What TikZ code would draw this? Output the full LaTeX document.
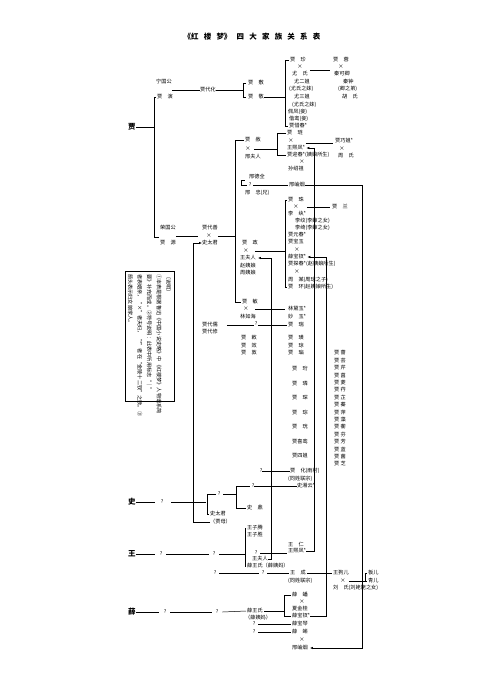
\documentclass[tikz,border=0pt]{standalone}
\usepackage{fontspec}
\setmainfont{Noto Sans CJK SC}
\usepackage{tikz}
\usetikzlibrary{arrows.meta}

\newcommand{\tsp}{\hspace{.7em}}
\tikzset{
  nm/.style={inner sep=0pt, anchor=west, font=\fontsize{5.2}{6}\selectfont, text=black},
  mk/.style={inner sep=0pt, font=\fontsize{5.2}{6}\selectfont, text=black},
  fam/.style={inner sep=0pt, anchor=west, font=\bfseries\fontsize{7.5}{8}\selectfont},
  ln/.style={line width=0.5pt},
  famln/.style={line width=0.9pt},
  arr/.style={line width=0.5pt, -{Latex[length=3pt,width=2.4pt]}},
}

\begin{document}
\begin{tikzpicture}[x=1bp, y=-1bp]
\fill[white] (0,0) rectangle (501,690);
\useasboundingbox (0,0) rectangle (501,690);

\node[font=\bfseries\fontsize{7.5}{8}\selectfont] (title) at (252,37) {《红\tsp 楼\tsp 梦》\tsp 四\tsp 大\tsp 家\tsp 族\tsp 关\tsp 系\tsp 表};

% jia
\node[fam] (jia) at (128,127) {贾};
\node[nm] (ngg) at (156,82) {宁国公};
\node[nm] (jy) at (157,97) {贾　演};
\node[nm] (jdh) at (200,90) {贾代化};
\node[nm] (jf) at (248,83) {贾　敷};
\node[nm] (jj) at (248,97) {贾　敬};
\node[nm] (rgg) at (160,228) {荣国公};
\node[nm] (jyu) at (160,243) {贾　源};
\node[nm] (jds) at (202,228) {贾代善};
\node[mk] (xds) at (209,236) {×};
\node[nm] (stj) at (202,243) {史太君};

\draw[famln] (jia.east) -- ([xshift=-3]jy.west |- jia.east);
\draw[ln] ([xshift=-1]jy.west) -- ++(-2,0) |- ([xshift=-1,yshift=6]jyu.west);
\draw[ln] (ngg.east |- jdh.west) -- (jdh.west);
\draw[ln] (jdh.east) -- ([xshift=-5]jf.west |- jdh.east);
\draw[ln] ([xshift=-2]jf.west) -- ++(-3,0) |- ([xshift=-2]jj.west);
\draw[ln] (rgg.east |- xds.center) -- ([xshift=-4]jds.west |- xds.center);

% ning branch
\node[nm] (jzh) at (290,60) {贾　珍};
\node[mk] (xzh) at (300,67) {×};
\node[nm] (ys) at (292,74) {尤　氏};
\node[nm] (yej) at (294,82) {尤二姐};
\node[nm] (ysm1) at (289,89) {(尤氏之妹)};
\node[nm] (ysj) at (294,97) {尤三姐};
\node[nm] (ysm2) at (292,105) {(尤氏之妹)};
\node[nm] (pf) at (288,112) {佩凤(妾)};
\node[nm] (xl) at (289,119) {偕鸾(妾)};
\node[nm] (jxc) at (289,126) {贾惜春*};
\node[nm] (jr) at (333,60) {贾　蓉};
\node[mk] (xr) at (341,67) {×};
\node[nm] (qkq) at (334,74) {秦可卿};
\node[nm] (qz) at (343,82) {秦钟};
\node[nm] (qzd) at (338,89) {(卿之弟)};
\node[nm] (hs) at (342,97) {胡　氏};

\draw[ln] (jj.east) -- ([xshift=-5]jzh.west |- jj.east);
\draw[ln] ([xshift=-1]jzh.west) -- ++(-4,0) |- ([xshift=-1]jxc.west);
\draw[ln] ([xshift=7,yshift=-3]xzh.east) -- ([xshift=-3,yshift=-3]jr.west |- xzh.east);

% she branch
\node[nm] (jsh) at (245,140) {贾　赦};
\node[mk] (xsh) at (248,149) {×};
\node[nm] (xfr) at (245,157) {邢夫人};
\node[nm] (jl) at (287,133) {贾　琏};
\node[mk] (xjl) at (291,141) {×};
\node[nm] (wxf) at (287,148) {王熙凤*};
\node[nm] (jyc) at (287,155) {贾迎春*(姨娘所生)};
\node[mk] (xyc) at (302,162) {×};
\node[nm] (ssz) at (288,169) {孙绍祖};
\node[nm] (jqj) at (335,141) {贾巧姐*};
\node[mk] (xqj) at (342,149) {×};
\node[nm] (zs) at (338,156) {周　氏};
\node[nm] (xdq) at (249,177) {邢德全};
\node[mk] (qxi) at (250,185) {?};
\node[nm] (xzhong) at (245,193) {邢　忠(兄)};
\node[nm] (xxy) at (289,185) {邢岫烟};

\draw[ln] ([xshift=6]xds.east) -- ([xshift=-10]jsh.west |- xds.center);
\draw[ln] ([xshift=3]xsh.east) -- ([xshift=-10]jl.west |- xsh.east);
\draw[ln] ([xshift=-1]jl.west) -- ++(-9,0) |- ([xshift=-1]jyc.west);
\draw[ln] ([xshift=12,yshift=-2]xjl.east) -- ([xshift=-2,yshift=-2]jqj.west |- xjl.east);
\draw[ln] ([xshift=-2]qxi.west) -- ++(-5,0) -- ++(0,-5) -- ++(3,0);
\draw[ln] ([xshift=2]qxi.east) -- ([xshift=-1]xxy.west |- qxi.east);

% zheng branch
\node[nm] (jzg) at (242,243) {贾　政};
\node[mk] (xzg) at (246,251) {×};
\node[nm] (wfr) at (240,258) {王夫人};
\node[nm] (zyn) at (240,266) {赵姨娘};
\node[nm] (zhyn) at (240,273) {周姨娘};
\node[nm] (jzhu) at (288,200) {贾　珠};
\node[mk] (xzhu) at (296,207) {×};
\node[nm] (lw) at (288,214) {李　纨*};
\node[nm] (lwen) at (295,221) {李纹(李婶之女)};
\node[nm] (lq) at (295,228) {李绮(李婶之女)};
\node[nm] (jyuc) at (288,235) {贾元春*};
\node[nm] (jby) at (288,242) {贾宝玉};
\node[mk] (xby) at (297,250) {×};
\node[nm] (bc) at (288,257) {薛宝钗*};
\node[nm] (jtc) at (288,264) {贾探春*(赵姨娘所生)};
\node[mk] (xtc) at (297,272) {×};
\node[nm] (zm) at (288,280) {周　某(周琼之子)};
\node[nm] (jhuan) at (288,287) {贾　环(赵姨娘所生)};
\node[nm] (jlan) at (332,207) {贾　兰};

\draw[ln] ([xshift=6]xzg.east) -- ([xshift=-3]jzhu.west |- xzg.east);
\draw[ln] ([xshift=-1]jzhu.west) -- ++(-2,0) |- ([xshift=-1]jhuan.west);
\draw[ln] ([xshift=8]xzhu.east) -- ([xshift=-2]jlan.west |- xzhu.east);

% min branch and cousins
\node[nm] (jm) at (242,302) {贾　敏};
\node[mk] (xm) at (246,309) {×};
\node[nm] (lrh) at (240,317) {林如海};
\node[nm] (ldy) at (288,309) {林黛玉*};
\node[nm] (my) at (288,317) {妙　玉*};
\node[nm] (jdr) at (202,325) {贾代儒};
\node[nm] (jdx) at (202,332) {贾代修};
\node[mk] (qr) at (256,324) {?};
\node[nm] (jrui) at (288,325) {贾　瑞};
\node[nm] (jch) at (241,338) {贾　敕};
\node[nm] (jxiao) at (241,346) {贾　效};
\node[nm] (jdun) at (241,353) {贾　敦};
\node[nm] (jhg) at (288,338) {贾　璜};
\node[nm] (jqiong) at (288,346) {贾　琼};
\node[nm] (jbian) at (288,353) {贾　㻞};
\foreach \nme [count=\i] in {贾　珩,贾　璘,贾　琛,贾　琮,贾　珖,贾喜鸾,贾四姐}
  \node[nm] (yu\i) at (292,{369+14.5*(\i-1)}) {\nme};
\foreach \nme [count=\i] in {贾 蔷,贾 芸,贾 芹,贾 菖,贾 菱,贾 荇,贾 芷,贾 蓁,贾 萍,贾 藻,贾 蘅,贾 芬,贾 芳,贾 蓝,贾 菌,贾 芝}
  \node[nm] (cao\i) at (334,{353+7.4*(\i-1)}) {\nme};

\draw[ln] ([xshift=-1]jsh.west) -- ++(-9,0) |- ([xshift=-1]jm.west);
\draw[ln] ([xshift=6]xm.east) -- ([xshift=-3]ldy.west |- xm.east);
\draw[ln] ([xshift=9]jdr.east) -- ([xshift=-1]qr.west |- jdr.east);
\draw[ln] ([xshift=1]qr.east |- jdr.east) -- ([xshift=-1]jrui.west);

% note
\node[draw, line width=0.8pt, rotate=-90, inner sep=3pt, align=left, text width=124bp,
      font=\fontsize{5.2}{9.6}\selectfont] (note) at (149.5,336) {%
〔说明〕\\
①本表是根据鲁迅《中国小说史略》中《红楼梦》人物谱系简\\
要》补充而成。②符号说明：此表中所用标志“｜”\\
者表姻亲，“×”者夫妇，“*”者在“金陵十二钗”之数。③\\
箭头表示妇女娘家人。};

% shi
\node[fam] (shi) at (128,502) {史};
\node[mk] (qs1) at (162,502) {?};
\node[mk] (qs2) at (219,494) {?};
\node[nm] (stj2) at (210,514) {史太君};
\node[nm] (jmu) at (210,522) {（贾母）};
\node[mk] (qs3) at (253,486) {?};
\node[nm] (sxy) at (297,486) {史湘云*};
\node[nm] (sd) at (247,508) {史　鼎};
\node[mk] (qh) at (261,471) {?};
\node[nm] (jh) at (290,471) {贾　化(雨村)};
\node[nm] (tx1) at (288,479) {(同姓联宗)};

\draw[famln] (shi.east) -- ([xshift=-6]qs1.west);
\draw[ln] ([xshift=8]qs1.east) -- ([xshift=-12]qs2.west |- qs1.east);
\draw[ln] ([xshift=-2]qs2.west) -- ++(-8,0) |- ([xshift=-1]stj2.west);
\draw[ln] ([xshift=3]qs2.east) -- ([xshift=-15]qs3.west |- qs2.east);
\draw[ln] ([xshift=-2]qs3.west) -- ++(-13,0) |- ([xshift=-1]sd.west);
\draw[ln] (qs3.east) -- (qs3.east -| sxy.west);
\draw[ln] (qh.east) -- (qh.east -| jh.west);

% wang
\node[fam] (wang) at (128,554) {王};
\node[mk] (qw1) at (161,554) {?};
\node[mk] (qw2) at (214,554) {?};
\node[nm] (wzt) at (247,528) {王子腾};
\node[nm] (wzs) at (247,535) {王子胜};
\node[mk] (qw3) at (256,553) {?};
\node[nm] (wr) at (288,545) {王　仁};
\node[nm] (wxf2) at (288,551) {王熙凤*};
\node[nm] (wfr2) at (252,559) {王夫人};
\node[nm] (xwsh) at (247,566) {薛王氏（薛姨妈）};
\node[mk] (qw4) at (215,573) {?};
\node[mk] (qw5) at (263,573) {?};
\node[nm] (wc) at (290,573) {王　成};
\node[nm] (tx2) at (288,581) {(同姓联宗)};
\node[nm] (wgr) at (333,573) {王狗儿};
\node[mk] (xgr) at (343,581) {×};
\node[nm] (lsh) at (333,588) {刘　氏(刘姥姥之女)};
\node[nm] (ber) at (368,573) {板儿};
\node[nm] (qer) at (368,581) {青儿};

\draw[famln] (wang.east) -- ([xshift=-5]qw1.west);
\draw[ln] ([xshift=4]qw1.east) -- ([xshift=-4]qw2.west);
\draw[ln] ([xshift=4]qw2.east) -- ([xshift=-2]wzt.west |- qw2.east);
\draw[ln] ([xshift=-1]wzt.west) -- ++(-1,0) |- ([xshift=-1]xwsh.west);
\draw[ln] ([xshift=3]qw3.east) -- ([xshift=-1]wxf2.west |- qw3.east);
\draw[ln] ([xshift=3]qw4.east) -- ([xshift=-3]qw5.west);
\draw[ln] ([xshift=3]qw5.east) -- ([xshift=-1]wc.west);
\draw[ln] ([xshift=1]wc.east) -- ([xshift=-1]wgr.west);
\draw[ln] ([xshift=3]xgr.east) -- ([xshift=-3]ber.west |- xgr.east);
\draw[ln] ([xshift=-1]ber.west) -- ++(-2,0) |- ([xshift=-1]qer.west);

% xue
\node[fam] (xue) at (128,612) {薛};
\node[mk] (qx1) at (165,612) {?};
\node[mk] (qx2) at (217,612) {?};
\node[nm] (xws) at (247,611) {薛王氏};
\node[nm] (xym) at (245,618) {（薛姨妈）};
\node[nm] (xp) at (292,595) {薛　蟠};
\node[mk] (xxp) at (302,602) {×};
\node[nm] (xjg) at (292,609) {夏金桂};
\node[nm] (xbc) at (292,616) {薛宝钗*};
\node[mk] (qx3) at (254,624) {?};
\node[nm] (xbq) at (292,624) {薛宝琴};
\node[mk] (qx4) at (254,632) {?};
\node[nm] (xk) at (292,632) {薛　蝌};
\node[mk] (xxk) at (302,640) {×};
\node[nm] (xxy2) at (292,648) {邢岫烟};

\draw[famln] (xue.east) -- ([xshift=-5]qx1.west);
\draw[ln] ([xshift=4]qx1.east) -- ([xshift=-4]qx2.west);
\draw[ln] ([xshift=4]qx2.east) -- ([xshift=-1]xws.west);
\draw[ln] ([xshift=1]xws.east) -- ([xshift=-8]xp.west |- xws.east);
\draw[ln] ([xshift=-1]xp.west) -- ++(-7,0) |- ([xshift=-1]xbc.west);
\draw[ln] ([xshift=3]qx3.east) -- ([xshift=-1]xbq.west);
\draw[ln] ([xshift=3]qx4.east) -- ([xshift=-1]xk.west);

% married-in women
\draw[arr] (jmu.west) -- ++(-17,0) |- (stj.west);
\draw[arr] (wfr2.east) -- ++(3,0) |- ([xshift=2]wfr.east);
\draw[arr] (wxf2.east) -- ++(8,0) |- ([xshift=1]wxf.east);
\draw[arr] (xbc.east) -- ++(16,0) |- ([xshift=1]bc.east);
\draw[arr] (xxy.east) -- ++(57,0) |- ([xshift=2]xxy2.east);
\end{tikzpicture}
\end{document}
